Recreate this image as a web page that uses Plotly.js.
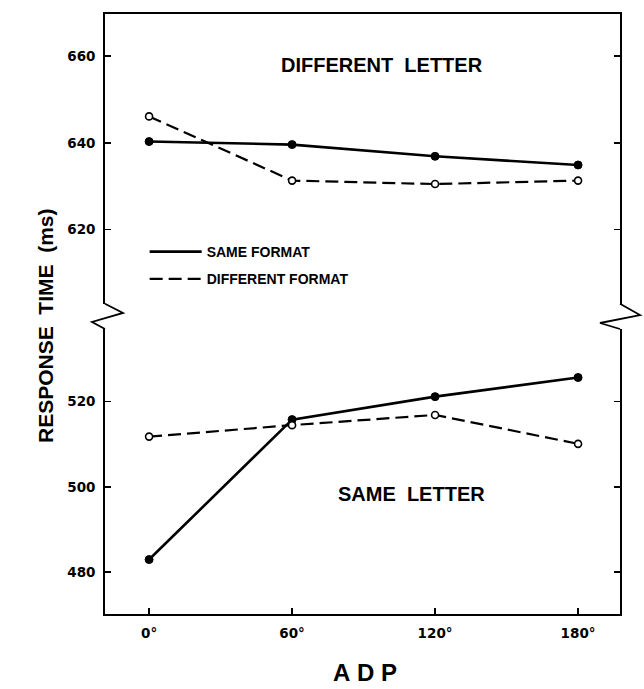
<!DOCTYPE html>
<html>
<head>
<meta charset="utf-8">
<script src="https://cdn.plot.ly/plotly-3.0.1.min.js"></script>
<style>html,body{margin:0;padding:0;background:#fff;}</style>
</head>
<body>
<div id="chart" style="width:644px;height:689px;"></div>
<script>
// ---- data ----
const adp = [0, 60, 120, 180];
const adpLabels = ['0°', '60°', '120°', '180°'];
const diffLetterSameFormat = [640.3, 639.6, 636.9, 634.9];
const diffLetterDiffFormat = [646.1, 631.3, 630.5, 631.3];
const sameLetterSameFormat = [482.9, 515.8, 521.2, 525.7];
const sameLetterDiffFormat = [511.8, 514.5, 516.9, 510.1];
const upperTicks = [620, 640, 660];
const lowerTicks = [480, 500, 520];
const seriesNames = ['SAME FORMAT', 'DIFFERENT FORMAT'];

const solidLine = {color: '#000', width: 2.6, dash: 'solid'};
const dashLine = {color: '#000', width: 2.2, dash: '13px,6px'};
const filledMarker = {symbol: 'circle', size: 8, color: '#000', line: {color: '#000', width: 1}};
const openMarker = {symbol: 'circle', size: 7, color: '#fff', line: {color: '#000', width: 1.6}};

const traces = [
  {x: adp, y: diffLetterSameFormat, xaxis: 'x2', yaxis: 'y2', mode: 'lines+markers', line: solidLine, marker: filledMarker, showlegend: false, name: seriesNames[0]},
  {x: adp, y: diffLetterDiffFormat, xaxis: 'x2', yaxis: 'y2', mode: 'lines+markers', line: dashLine, marker: openMarker, showlegend: false, name: seriesNames[1]},
  {x: adp, y: sameLetterSameFormat, xaxis: 'x', yaxis: 'y', mode: 'lines+markers', line: solidLine, marker: filledMarker, showlegend: false, name: seriesNames[0]},
  {x: adp, y: sameLetterDiffFormat, xaxis: 'x', yaxis: 'y', mode: 'lines+markers', line: dashLine, marker: openMarker, showlegend: false, name: seriesNames[1]},
  // legend entries (line style only)
  {x: [null], y: [null], xaxis: 'x2', yaxis: 'y2', mode: 'lines', line: solidLine, name: seriesNames[0], showlegend: true, legendgroup: 'a'},
  {x: [null], y: [null], xaxis: 'x2', yaxis: 'y2', mode: 'lines', line: dashLine, name: seriesNames[1], showlegend: true, legendgroup: 'b'}
];

const tickFont = {family: 'DejaVu Sans', size: 13.5, color: '#000', weight: 'bold'};
const lineW = 1.8;

const layout = {
  width: 644, height: 689,
  margin: {l: 105, r: 24, t: 14, b: 75},
  paper_bgcolor: '#fff', plot_bgcolor: '#fff',
  showlegend: true,
  legend: {
    x: 0.077, y: 0.63, xanchor: 'left', yanchor: 'top',
    bgcolor: 'rgba(0,0,0,0)', borderwidth: 0,
    font: {family: 'Liberation Sans', size: 14, color: '#000', weight: 'bold'},
    itemwidth: 52, traceorder: 'grouped', tracegroupgap: 6
  },
  xaxis: {
    domain: [0, 1], anchor: 'y', range: [-18.5, 197.6],
    tickvals: adp, ticktext: adpLabels, tickfont: tickFont,
    ticks: 'inside', ticklen: 6, tickwidth: 1.5, tickcolor: '#000',
    showline: true, linecolor: '#000', linewidth: lineW,
    showgrid: false, zeroline: false, ticklabelstandoff: 6
  },
  xaxis2: {
    domain: [0, 1], anchor: 'y2', matches: 'x', side: 'top',
    showticklabels: false, ticks: '',
    showline: true, linecolor: '#000', linewidth: lineW,
    showgrid: false, zeroline: false
  },
  yaxis: {
    domain: [0, 0.475], anchor: 'x', range: [470.1, 537.1],
    tickvals: lowerTicks, tickfont: tickFont,
    ticks: 'inside', ticklen: 6, tickwidth: 1.5, tickcolor: '#000',
    showline: true, mirror: 'ticks', linecolor: '#000', linewidth: lineW,
    showgrid: false, zeroline: false, ticklabelstandoff: 5
  },
  yaxis2: {
    domain: [0.517, 1], anchor: 'x2', range: [602.9, 669.7],
    tickvals: upperTicks, tickfont: tickFont,
    ticks: 'inside', ticklen: 6, tickwidth: 1.5, tickcolor: '#000',
    showline: true, mirror: 'ticks', linecolor: '#000', linewidth: lineW,
    showgrid: false, zeroline: false, ticklabelstandoff: 5
  },
  annotations: [
    {text: 'DIFFERENT\u00a0\u00a0LETTER', xref: 'x2', yref: 'y2', x: 97.8, y: 658, showarrow: false,
     font: {family: 'Liberation Sans', size: 20, color: '#000', weight: 'bold'}},
    {text: 'SAME\u00a0\u00a0LETTER', xref: 'x', yref: 'y', x: 110, y: 498.2, showarrow: false,
     font: {family: 'Liberation Sans', size: 20, color: '#000', weight: 'bold'}},
    {text: 'RESPONSE\u00a0\u00a0TIME\u00a0\u00a0(ms)', xref: 'paper', yref: 'paper', x: -0.1165, y: 0.48,
     textangle: -90, showarrow: false, xanchor: 'center', yanchor: 'middle',
     font: {family: 'Liberation Sans', size: 21, color: '#000', weight: 'bold'}},
    {text: 'A\u00a0D\u00a0P', xref: 'paper', yref: 'paper', x: 0.505, y: -0.097, showarrow: false,
     xanchor: 'center', yanchor: 'middle',
     font: {family: 'Liberation Sans', size: 24, color: '#000', weight: 'bold'}}
  ],
  shapes: [
    {type: 'path', xref: 'paper', yref: 'paper', line: {color: '#000', width: lineW},
     path: 'M 0 0.517 L 0.035 0.5017 L -0.0252 0.4867 L 0 0.475'},
    {type: 'path', xref: 'paper', yref: 'paper', line: {color: '#000', width: lineW},
     path: 'M 1 0.517 L 1.0388 0.4983 L 0.9612 0.485 L 1 0.475'}
  ]
};

Plotly.newPlot('chart', traces, layout, {staticPlot: true, displayModeBar: false});
</script>
</body>
</html>
